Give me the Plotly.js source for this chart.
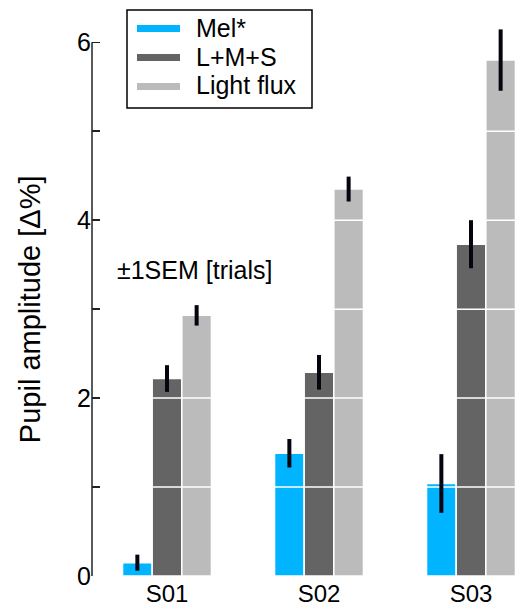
<!DOCTYPE html>
<html>
<head>
<meta charset="utf-8">
<script src="https://cdn.plot.ly/plotly-3.0.1.min.js"></script>
<style>html,body{margin:0;padding:0;background:#fff;}#chart{width:515px;height:610px;}</style>
</head>
<body>
<div id="chart"></div>
<script>
// ---- data ----
const subjects = ["S01", "S02", "S03"];
const seriesNames = ["Mel*", "L+M+S", "Light flux"];
const melValues = [0.15, 1.38, 1.04];
const melSEM = [0.09, 0.16, 0.33];
const lmsValues = [2.22, 2.29, 3.73];
const lmsSEM = [0.15, 0.195, 0.27];
const fluxValues = [2.93, 4.35, 5.80];
const fluxSEM = [0.115, 0.14, 0.345];
const yTickVals = [0, 1, 2, 3, 4, 5, 6];
const yTickText = ["0", "", "2", "", "4", "", "6"];
const gridVals = [1, 2, 3, 4, 5];

// ---- style ----
const colors = ["#00B4FF", "#646464", "#BBBBBB"];
const FONT = "Liberation Sans, Arial, Helvetica, sans-serif";
const bargap = 0.415;
const barW = (1 - bargap) / 3;
const xIdx = subjects.map((_, i) => i);

const values = [melValues, lmsValues, fluxValues];
const sems = [melSEM, lmsSEM, fluxSEM];

const traces = [];
// bars
values.forEach((v, k) => {
  traces.push({
    type: "bar", x: xIdx, y: v, name: seriesNames[k],
    marker: {color: colors[k], line: {color: "#ffffff", width: 1.5}},
    showlegend: false, hoverinfo: "skip"
  });
});
// white grid lines drawn over the bars
const gx = [], gy = [];
gridVals.forEach(g => { gx.push(-0.36, 2.4, null); gy.push(g, g, null); });
traces.push({type: "scatter", mode: "lines", x: gx, y: gy,
  line: {color: "#ffffff", width: 1.5}, showlegend: false, hoverinfo: "skip"});
// error bars
values.forEach((v, k) => {
  traces.push({
    type: "scatter", mode: "markers",
    x: xIdx.map(i => i + (k - 1) * barW), y: v,
    marker: {size: 1, opacity: 0},
    error_y: {type: "data", array: sems[k], visible: true, color: "#05050f", thickness: 4, width: 0},
    showlegend: false, hoverinfo: "skip"
  });
});

// ---- custom legend (box, sample lines, labels) in paper coords ----
const PL = 92, PW = 423, PB = 576, PH = 566;
const px2x = p => (p - PL) / PW;
const py2y = p => (PB - p) / PH;
const legRows = [28.5, 57.5, 86.5];
const shapes = [
  {type: "line", xref: "paper", yref: "y", x0: 0, x1: 0, y0: 0, y1: 6,
    line: {color: "#222", width: 1.5}},
  {type: "rect", xref: "paper", yref: "paper", x0: px2x(127), x1: px2x(312),
    y0: py2y(108), y1: py2y(10), line: {color: "#000", width: 1.5}, fillcolor: "#ffffff", layer: "above"}
];
const annotations = [
  {xref: "paper", yref: "y", x: px2x(30), y: 3, text: "Pupil amplitude [Δ%]",
    textangle: -90, showarrow: false, xanchor: "center", yanchor: "middle",
    font: {size: 29, family: FONT, color: "#000"}},
  {xref: "x", yref: "y", x: -0.342, y: 3.44, text: "±1SEM [trials]",
    showarrow: false, xanchor: "left", yanchor: "middle",
    font: {size: 25, family: FONT, color: "#000"}}
];
seriesNames.forEach((n, k) => {
  shapes.push({type: "line", xref: "paper", yref: "paper",
    x0: px2x(137), x1: px2x(180), y0: py2y(legRows[k]), y1: py2y(legRows[k]),
    line: {color: colors[k], width: 7}, layer: "above"});
  annotations.push({xref: "paper", yref: "paper", x: px2x(194), y: py2y(legRows[k] - 1),
    text: n, showarrow: false, xanchor: "left", yanchor: "middle",
    font: {size: 25, family: FONT, color: "#000"}});
});

const layout = {
  width: 515, height: 610,
  margin: {l: 92, r: 0, t: 10, b: 34},
  paper_bgcolor: "#ffffff", plot_bgcolor: "#ffffff",
  font: {family: FONT, size: 24, color: "#000"},
  barmode: "group", bargap: bargap, bargroupgap: 0,
  showlegend: false,
  xaxis: {
    type: "linear", range: [-0.4934, 2.2895],
    tickvals: xIdx, ticktext: subjects, ticks: "",
    showgrid: false, zeroline: false, showline: false, ticklabelstandoff: 1,
    tickfont: {size: 24, family: FONT}, automargin: false, fixedrange: true
  },
  yaxis: {
    range: [0, 6.363], tickvals: yTickVals, ticktext: yTickText,
    ticks: "inside", ticklen: 8, tickwidth: 1.5, tickcolor: "#222",
    showgrid: false, zeroline: false, showline: false,
    tickfont: {size: 25, family: FONT}, automargin: false, fixedrange: true
  },
  shapes: shapes,
  annotations: annotations
};

Plotly.newPlot("chart", traces, layout, {displayModeBar: false, staticPlot: true});
</script>
</body>
</html>
